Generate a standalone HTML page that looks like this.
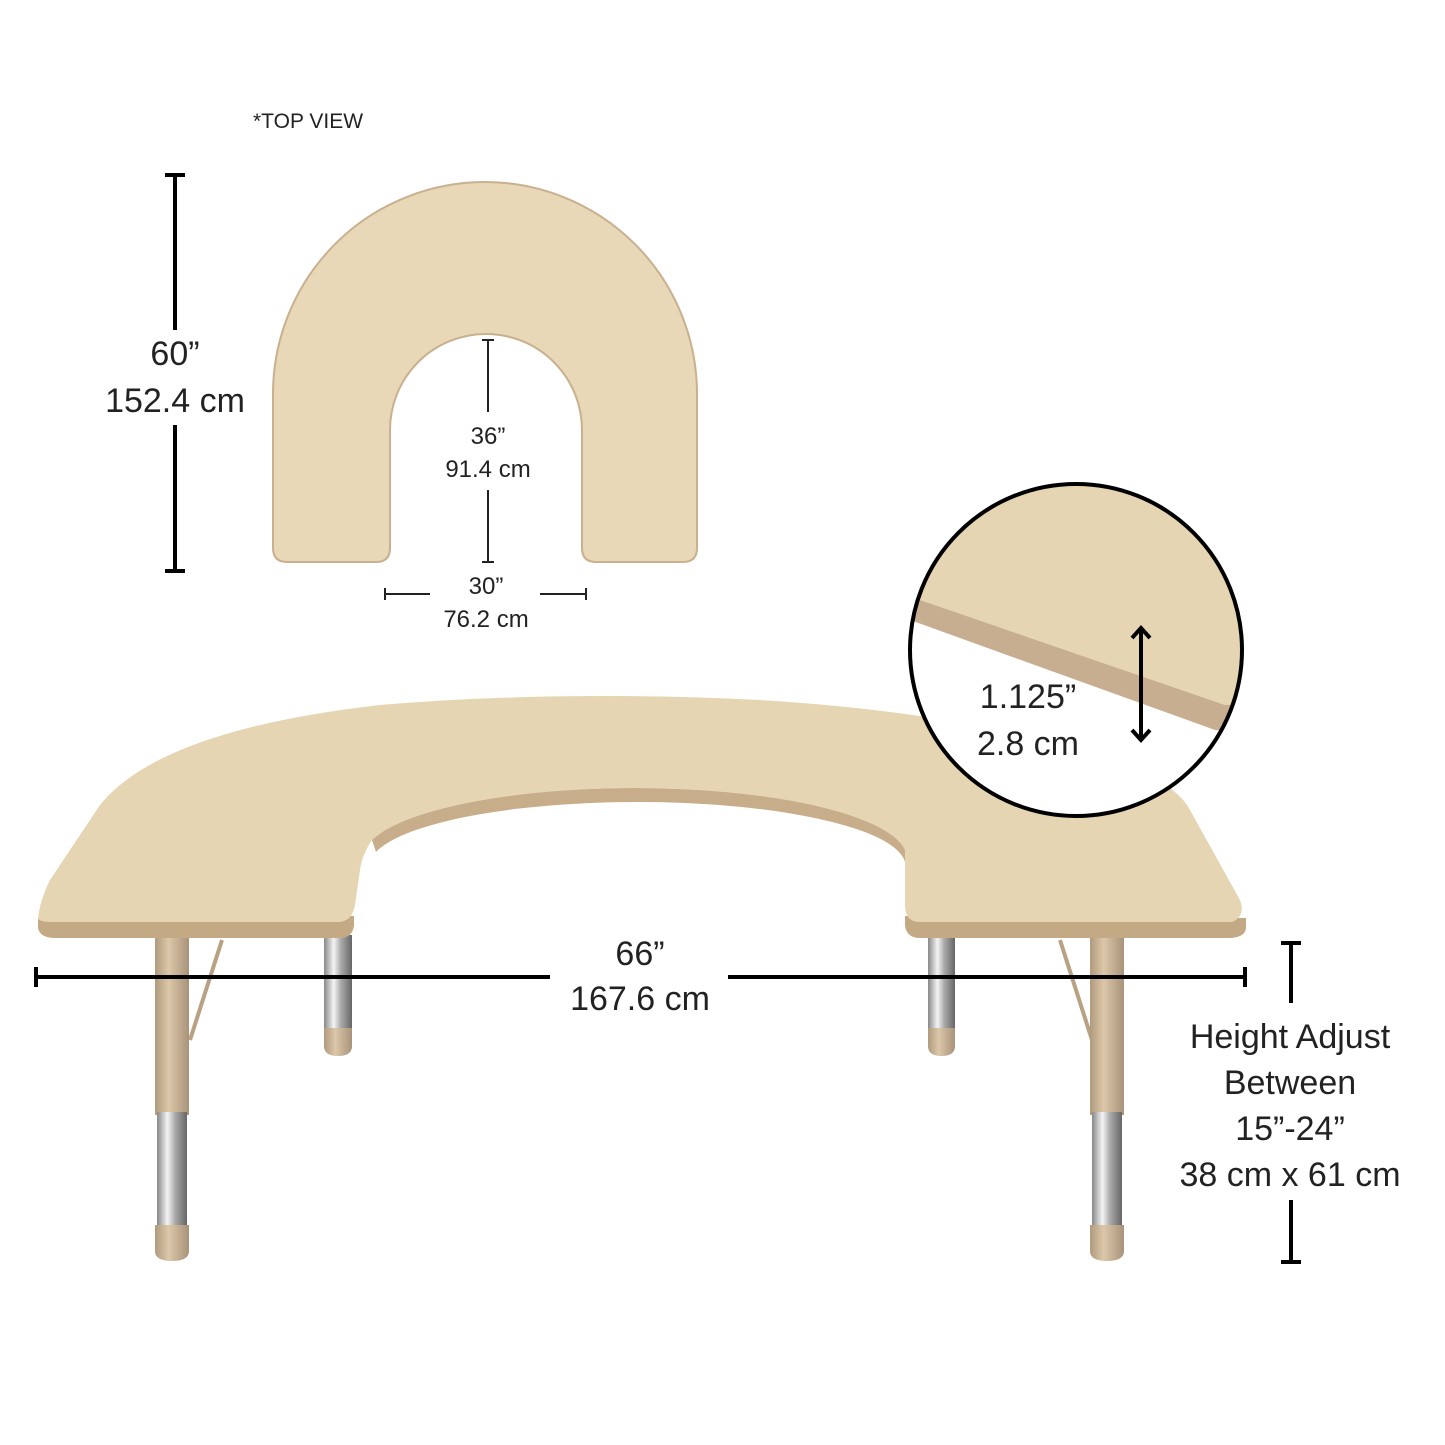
<!DOCTYPE html>
<html><head><meta charset="utf-8"><style>
html,body{margin:0;padding:0;background:#fff}
svg{display:block}
text{font-family:"Liberation Sans",sans-serif;fill:#222}
</style></head><body>
<svg width="1445" height="1445" viewBox="0 0 1445 1445" xmlns="http://www.w3.org/2000/svg">
<defs>
<linearGradient id="chrome" x1="0" x2="1" y1="0" y2="0">
<stop offset="0" stop-color="#888"/><stop offset="0.35" stop-color="#f4f4f4"/><stop offset="0.6" stop-color="#aaa"/><stop offset="1" stop-color="#666"/></linearGradient>
<linearGradient id="tan" x1="0" x2="1" y1="0" y2="0">
<stop offset="0" stop-color="#b09a7e"/><stop offset="0.4" stop-color="#dcc7a9"/><stop offset="1" stop-color="#a8927a"/></linearGradient>
<clipPath id="cc"><circle cx="1076" cy="650" r="166"/></clipPath>
</defs>

<text x="253" y="128" font-size="21">*TOP VIEW</text>

<path d="M273,394 A212,212 0 0 1 697,394 L697,548 Q697,562 683,562 L596,562 Q582,562 582,548 L582,430 A96,96 0 0 0 390,430 L390,548 Q390,562 376,562 L287,562 Q273,562 273,548 Z" fill="#e8d8b7" stroke="#c9b08e" stroke-width="2"/>

<line x1="175" y1="175" x2="175" y2="330" stroke="#000" stroke-width="4"/>
<line x1="175" y1="425" x2="175" y2="571" stroke="#000" stroke-width="4"/>
<line x1="165" y1="175" x2="185" y2="175" stroke="#000" stroke-width="4"/>
<line x1="165" y1="571" x2="185" y2="571" stroke="#000" stroke-width="4"/>
<text x="175" y="365" font-size="34" text-anchor="middle">60”</text>
<text x="175" y="412" font-size="34" text-anchor="middle">152.4 cm</text>

<line x1="488" y1="340" x2="488" y2="412" stroke="#222" stroke-width="2"/>
<line x1="488" y1="490" x2="488" y2="562" stroke="#222" stroke-width="2"/>
<line x1="482" y1="340" x2="494" y2="340" stroke="#222" stroke-width="2"/>
<line x1="482" y1="562" x2="494" y2="562" stroke="#222" stroke-width="2"/>
<text x="488" y="444" font-size="24" text-anchor="middle">36”</text>
<text x="488" y="477" font-size="24" text-anchor="middle">91.4 cm</text>

<line x1="385" y1="594" x2="430" y2="594" stroke="#222" stroke-width="2"/>
<line x1="540" y1="594" x2="586" y2="594" stroke="#222" stroke-width="2"/>
<line x1="385" y1="588" x2="385" y2="600" stroke="#222" stroke-width="2"/>
<line x1="586" y1="588" x2="586" y2="600" stroke="#222" stroke-width="2"/>
<text x="486" y="594" font-size="24" text-anchor="middle">30”</text>
<text x="486" y="627" font-size="24" text-anchor="middle">76.2 cm</text>

<line x1="222" y1="940" x2="190" y2="1040" stroke="#b8a283" stroke-width="4"/>
<line x1="1060" y1="940" x2="1092" y2="1040" stroke="#b8a283" stroke-width="4"/>
<rect x="324" y="935" width="28" height="95" fill="url(#chrome)"/>
<path d="M324,1028 h28 v18 q0,10 -14,10 q-14,0 -14,-10z" fill="url(#tan)"/>
<rect x="928" y="935" width="27" height="95" fill="url(#chrome)"/>
<path d="M928,1028 h27 v18 q0,10 -13.5,10 q-13.5,0 -13.5,-10z" fill="url(#tan)"/>
<rect x="155" y="935" width="34" height="180" fill="url(#tan)"/>
<rect x="157" y="1112" width="30" height="115" fill="url(#chrome)"/>
<path d="M155,1225 h34 v26 q0,10 -17,10 q-17,0 -17,-10z" fill="url(#tan)"/>
<rect x="1090" y="935" width="34" height="180" fill="url(#tan)"/>
<rect x="1092" y="1112" width="30" height="115" fill="url(#chrome)"/>
<path d="M1090,1225 h34 v26 q0,10 -17,10 q-17,0 -17,-10z" fill="url(#tan)"/>

<path d="M38,918 L38,928 Q40,938 55,938 L340,938 Q352,938 354,926 L354,916 Z" fill="#c4a985"/>
<path d="M905,916 L905,926 Q907,938 920,938 L1228,938 Q1245,938 1246,928 L1246,918 Z" fill="#c4a985"/>
<path d="M38,918 Q40,900 50,880 L100,805 Q160,730 380,705 Q560,690 760,700 Q1000,715 1140,770 Q1180,790 1190,810 L1240,900 Q1246,916 1232,922 L920,922 Q905,922 905,905 L905,850 A272,70 0 0 0 372,840 Q362,855 360,870 L355,905 Q352,922 338,922 L55,922 Q38,922 38,918 Z" fill="#e6d5b3"/>
<path d="M372,840 A272,70 0 0 1 905,850 L905,862 A268,64 0 0 0 376,852 Z" fill="#c8ad8b"/>

<line x1="36" y1="977" x2="550" y2="977" stroke="#000" stroke-width="4"/>
<line x1="728" y1="977" x2="1245" y2="977" stroke="#000" stroke-width="4"/>
<line x1="36" y1="967" x2="36" y2="987" stroke="#000" stroke-width="4"/>
<line x1="1245" y1="967" x2="1245" y2="987" stroke="#000" stroke-width="4"/>
<text x="640" y="965" font-size="34" text-anchor="middle">66”</text>
<text x="640" y="1010" font-size="34" text-anchor="middle">167.6 cm</text>

<line x1="1291" y1="943" x2="1291" y2="1003" stroke="#000" stroke-width="4"/>
<line x1="1291" y1="1200" x2="1291" y2="1262" stroke="#000" stroke-width="4"/>
<line x1="1281" y1="943" x2="1301" y2="943" stroke="#000" stroke-width="4"/>
<line x1="1281" y1="1262" x2="1301" y2="1262" stroke="#000" stroke-width="4"/>
<text x="1290" y="1048" font-size="34" text-anchor="middle">Height Adjust</text>
<text x="1290" y="1094" font-size="34" text-anchor="middle">Between</text>
<text x="1290" y="1140" font-size="34" text-anchor="middle">15”-24”</text>
<text x="1290" y="1186" font-size="34" text-anchor="middle">38 cm x 61 cm</text>

<circle cx="1076" cy="650" r="166" fill="#fff"/>
<g clip-path="url(#cc)">
<path d="M900,480 L1260,480 L1260,705 L1225,705 L920,600 L900,595 Z" fill="#e6d5b3"/>
<path d="M900,595 L920,600 L1225,705 L1260,705 L1260,735 L1215,730 L910,620 L900,618 Z" fill="#c7ae90"/>
</g>
<circle cx="1076" cy="650" r="166" fill="none" stroke="#000" stroke-width="4"/>
<line x1="1141" y1="628" x2="1141" y2="740" stroke="#000" stroke-width="4"/>
<polyline points="1132,638 1141,628 1150,638" fill="none" stroke="#000" stroke-width="4"/>
<polyline points="1132,730 1141,740 1150,730" fill="none" stroke="#000" stroke-width="4"/>
<text x="1028" y="708" font-size="34" text-anchor="middle">1.125”</text>
<text x="1028" y="755" font-size="34" text-anchor="middle">2.8 cm</text>
</svg>
</body></html>
